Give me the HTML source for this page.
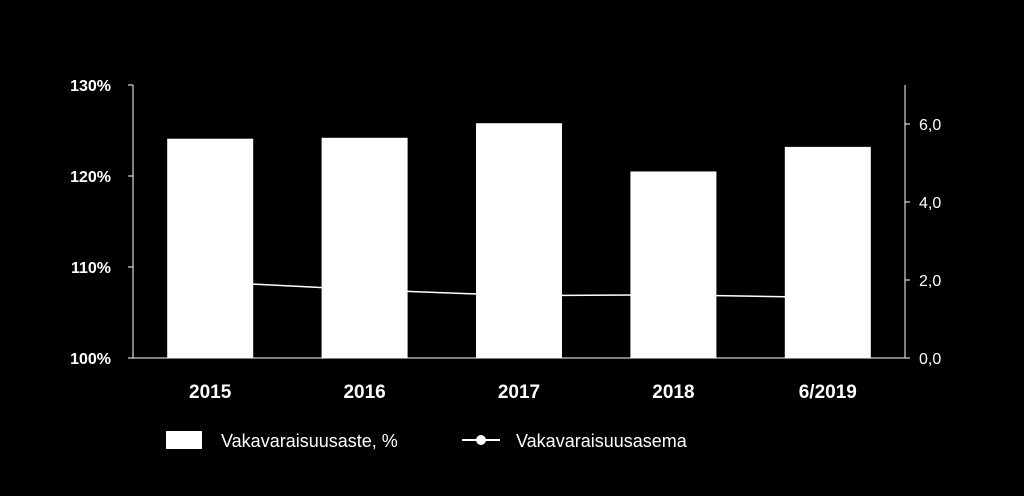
<!DOCTYPE html>
<html><head><meta charset="utf-8"><style>
html,body{margin:0;padding:0;background:#000;}
svg{display:block;font-family:"Liberation Sans",sans-serif;}
</style></head><body>
<svg id="chart" width="1024" height="496" viewBox="0 0 1024 496">
<rect width="1024" height="496" fill="#000"/>
<g id="axes"></g><g id="bars"></g><g id="line"></g>
<g>
<rect x="166" y="431" width="36" height="18" fill="#fff"/>
<text x="221" y="447" fill="#fff" font-size="18">Vakavaraisuusaste, %</text>
<line x1="462" y1="440" x2="500" y2="440" stroke="#fff" stroke-width="2"/>
<circle cx="481" cy="440" r="5" fill="#fff"/>
<text x="516" y="447" fill="#fff" font-size="18">Vakavaraisuusasema</text>
</g>
</svg>
<script>
const categories=["2015","2016","2017","2018","6/2019"];
const barValues=[124.1,124.2,125.8,120.5,123.2];
const lineValues=[1.95,1.75,1.6,1.62,1.55];
const leftTicks=[100,110,120,130];
const rightTicks=[0,2,4,6];
const NS="http://www.w3.org/2000/svg";
const x0=133,x1=905,yB=358,yT=85;
const yL=v=>yB-(v-100)/30*(yB-yT);
const yR=v=>yB-v/7*(yB-yT);
const bw=(x1-x0)/categories.length;
const xC=i=>x0+bw*(i+0.5);
function mk(t,a,p){const e=document.createElementNS(NS,t);for(const k in a)e.setAttribute(k,a[k]);p.appendChild(e);return e;}
const ax=document.getElementById('axes'),bg=document.getElementById('bars'),lg=document.getElementById('line');
let l=mk('line',{x1:x0,y1:yT,x2:x0,y2:yB,stroke:'#fff','stroke-width':1},ax);


l=mk('line',{x1:x1,y1:yT,x2:x1,y2:yB,stroke:'#fff','stroke-width':1},ax);


l=mk('line',{x1:x0,y1:yB,x2:x1,y2:yB,stroke:'#fff','stroke-width':1},ax);


leftTicks.forEach(v=>{const t=mk('text',{x:x0-22,y:yL(v)+6,fill:'#fff','font-size':16,'font-weight':'bold','text-anchor':'end'},ax);t.textContent=v+'%';


mk('line',{x1:x0-5,y1:yL(v),x2:x0,y2:yL(v),stroke:'#fff'},ax);});
rightTicks.forEach(v=>{const t=mk('text',{x:x1+14,y:yR(v)+6,fill:'#fff','font-size':16},ax);t.textContent=v.toFixed(1).replace('.',',');


mk('line',{x1:x1,y1:yR(v),x2:x1+5,y2:yR(v),stroke:'#fff'},ax);});
categories.forEach((c,i)=>{const t=mk('text',{x:xC(i),y:398,fill:'#fff','font-size':19,'font-weight':'bold','text-anchor':'middle'},ax);t.textContent=c;


const r=mk('rect',{x:xC(i)-43,y:yL(barValues[i]),width:86,height:yB-yL(barValues[i]),fill:'#fff'},bg);

});
const p=mk('polyline',{points:lineValues.map((v,i)=>xC(i)+','+yR(v)).join(' '),fill:'none',stroke:'#fff','stroke-width':1.5},lg);


</script>
</body></html>
